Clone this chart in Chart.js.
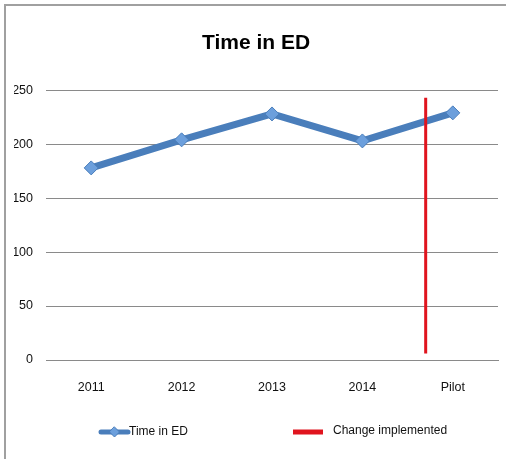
<!DOCTYPE html>
<html>
<head>
<meta charset="utf-8">
<script src="https://cdn.jsdelivr.net/npm/chart.js@4/dist/chart.umd.min.js"></script>
<style>
  html, body { margin: 0; padding: 0; background: #fff; }
  #wrap { position: relative; width: 506px; height: 459px; overflow: hidden; }
  #frame { position: absolute; left: 4px; top: 4px; width: 520px; height: 480px; border: 2px solid #a0a0a0; box-sizing: border-box; }
  canvas { position: absolute; left: 0; top: 0; }
</style>
</head>
<body>
<div id="wrap">
  <div id="frame"></div>
  <canvas id="c" width="506" height="459"></canvas>
</div>
<script>
const chartTitle = "Time in ED";
const categories = ["2011", "2012", "2013", "2014", "Pilot"];
const timeInED = [178, 204, 228, 203, 229];
const seriesLabel = "Time in ED";
const changeLabel = "Change implemented";
const changeX = [3.7, 3.7];
const changeY = [6, 243];
const yTicks = [0, 50, 100, 150, 200, 250];

const FONT = "'Liberation Sans Narrow', 'Liberation Sans', Arial, sans-serif";
const BLUE = "#4A7EBB";
const BLUE_PT = "#6C9FDC";
const RED = "#E0141E";

const legendPlugin = {
  id: 'customLegend',
  afterDraw(chart) {
    const ctx = chart.ctx;
    const y = 432;
    ctx.save();
    // blue item
    ctx.strokeStyle = BLUE; ctx.lineWidth = 5; ctx.lineCap = 'round';
    ctx.beginPath(); ctx.moveTo(101, y); ctx.lineTo(128, y); ctx.stroke();
    ctx.fillStyle = BLUE_PT; ctx.strokeStyle = BLUE; ctx.lineWidth = 1;
    ctx.beginPath(); ctx.moveTo(114.5, y - 5); ctx.lineTo(119.5, y); ctx.lineTo(114.5, y + 5); ctx.lineTo(109.5, y); ctx.closePath(); ctx.fill(); ctx.stroke();
    ctx.font = "12px " + FONT; ctx.fillStyle = "#111"; ctx.textBaseline = 'middle'; ctx.textAlign = 'left';
    ctx.fillText(chart.data.datasets[0].label, 129, y);
    // red item
    ctx.fillStyle = RED; ctx.fillRect(293, y - 2.5, 30, 5);
    ctx.fillStyle = "#111";
    ctx.fillText(chart.data.datasets[1].label, 333, y - 1);
    ctx.restore();
  }
};

new Chart(document.getElementById('c'), {
  type: 'line',
  data: {
    labels: categories,
    datasets: [
      {
        label: seriesLabel,
        data: timeInED,
        borderColor: BLUE,
        borderWidth: 7,
        backgroundColor: BLUE_PT,
        pointStyle: 'rectRot',
        pointRadius: 7,
        pointBackgroundColor: BLUE_PT,
        pointBorderColor: BLUE,
        pointBorderWidth: 1,
        tension: 0,
        xAxisID: 'x',
        order: 2
      },
      {
        label: changeLabel,
        type: 'line',
        data: changeX.map((x, i) => ({ x: x, y: changeY[i] })),
        borderColor: RED,
        backgroundColor: RED,
        borderWidth: 3,
        pointRadius: 0,
        xAxisID: 'x2',
        order: 1
      }
    ]
  },
  options: {
    responsive: false,
    animation: false,
    devicePixelRatio: 1,
    layout: { padding: { left: 14, right: 8, top: 0, bottom: 59 } },
    plugins: {
      legend: { display: false },
      tooltip: { enabled: false },
      title: {
        display: true,
        text: chartTitle,
        color: "#000",
        font: { family: FONT, size: 21, weight: 'bold' },
        padding: { top: 31, bottom: 34 }
      }
    },
    scales: {
      x: {
        type: 'category',
        offset: true,
        grid: { display: false, drawTicks: false },
        border: { display: true, color: '#8a8a8a', width: 1 },
        ticks: { color: '#111', font: { family: FONT, size: 12.5 }, padding: 20, maxRotation: 0 },
        afterFit(s) { s.height = 40; }
      },
      x2: {
        type: 'linear',
        display: false,
        min: -0.5,
        max: 4.5
      },
      y: {
        min: 0,
        max: 250,
        afterBuildTicks(s) { s.ticks = yTicks.map(v => ({ value: v })); },
        grid: { color: '#8a8a8a', lineWidth: 1, drawTicks: false },
        border: { display: false },
        ticks: { color: '#111', font: { family: FONT, size: 12.5 }, padding: 13 },
        afterFit(s) { s.width = 32; }
      }
    }
  },
  plugins: [legendPlugin]
});
</script>
</body>
</html>
